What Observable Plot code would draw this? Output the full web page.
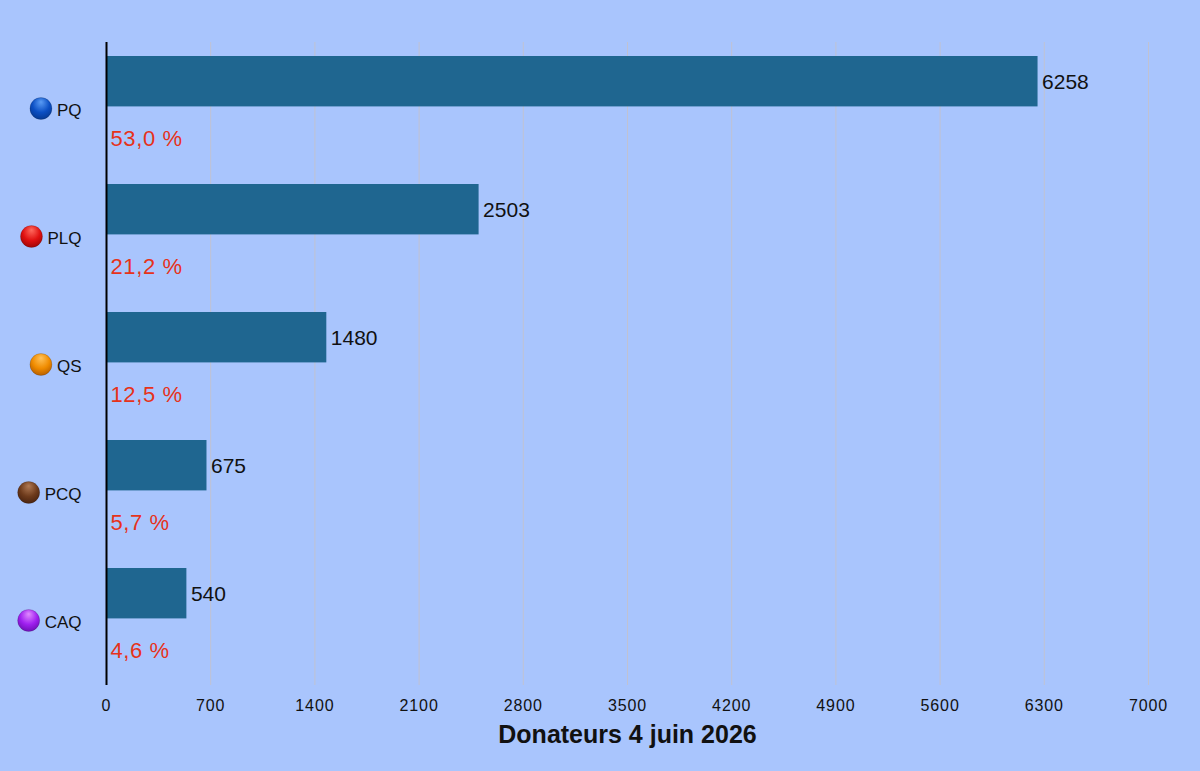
<!DOCTYPE html>
<html><head><meta charset="utf-8">
<script src="https://cdn.jsdelivr.net/npm/d3@7"></script>
<script src="https://cdn.jsdelivr.net/npm/@observablehq/plot@0.6"></script>
<style>
html,body{margin:0;padding:0;background:#a9c5fd;}
#chart{width:1200px;height:771px;}
</style></head>
<body><div id="chart"></div>
<script>
const parties = ["PQ", "PLQ", "QS", "PCQ", "CAQ"];
const donors = [6258, 2503, 1480, 675, 540];
const shares = ["53,0 %", "21,2 %", "12,5 %", "5,7 %", "4,6 %"];
const partyColors = [["#5a9cf5", "#0b4fc4", "#063a94"], ["#ff6a5e", "#e01010", "#a00606"], ["#ffc25a", "#f08c00", "#b86000"], ["#b07a55", "#6e3b1c", "#4a2410"], ["#e08cff", "#a020f0", "#7010b8"]];
const xTicks = [0, 700, 1400, 2100, 2800, 3500, 4200, 4900, 5600, 6300, 7000];
const title = "Donateurs 4 juin 2026";

const data = parties.map((p, i) => ({party: p, donors: donors[i], share: shares[i], idx: i}));

const font = "'Liberation Sans', Arial, Helvetica, sans-serif";
const ctx = document.createElement("canvas").getContext("2d");
ctx.font = `17px ${font}`;
const nameW = p => ctx.measureText(p).width;

const bandH = (685 - 42) / parties.length;

const chart = Plot.plot({
  width: 1200,
  height: 771,
  marginLeft: 106,
  marginRight: 52,
  marginTop: 42,
  marginBottom: 86,
  style: {background: "transparent", fontFamily: font, fontSize: "16px", color: "#111"},
  x: {domain: [0, 7000], ticks: xTicks, label: null},
  y: {domain: parties, padding: 0, label: null, axis: null},
  marks: [
    Plot.gridX(xTicks.slice(1), {stroke: "#c0c2d2", strokeOpacity: 1, strokeWidth: 1}),
    Plot.axisX({ticks: xTicks, tickSize: 0, tickPadding: 14, label: null, tickFormat: d => String(d), ariaLabel: "x-axis"}),
    Plot.barX(data, {x: "donors", y: "party", fill: "#1f6690", insetTop: 12, insetBottom: bandH - 63}),
    Plot.ruleX([0], {stroke: "#000", strokeWidth: 2}),
    Plot.text(data, {x: "donors", y: "party", text: d => String(d.donors), textAnchor: "start", dx: 4, dy: -26, fontSize: 21, fill: "#111"}),
    Plot.text(data, {x: 0, y: "party", text: "share", textAnchor: "start", dx: 4, dy: 30, fontSize: 22, fill: "#e6321a",
      render: (index, scales, values, dims, context, next) => {
        const g = next(index, scales, values, dims, context);
        d3.select(g).style("letter-spacing", "0.6px");
        return g;
      }}),
    Plot.text(data, {frameAnchor: "left", y: "party", text: "party", textAnchor: "end", dx: -25, dy: 2, fontSize: 17, fill: "#111"}),
    Plot.dot(data, {frameAnchor: "left", y: "party", r: 11, fill: d => `url(#grad${d.idx})`, stroke: "rgba(0,0,0,0.25)", strokeWidth: 0.6,
      render: (index, scales, values, dims, context, next) => {
        const g = next(index, scales, values, dims, context);
        d3.select(g).selectAll("circle").each(function(_, j) {
          const i = index[j];
          d3.select(this).attr("cx", dims.marginLeft - 25 - nameW(data[i].party) - 16).attr("fill", `url(#grad${data[i].idx})`);
        });
        return g;
      }}),
    Plot.text([title], {frameAnchor: "bottom", dy: 57, fontSize: 25, fontWeight: "bold", fill: "#111"})
  ]
});

const svg = d3.select(chart);
svg.selectAll('g[aria-label="x-axis tick label"]').style("letter-spacing", "0.9px").attr("font-size", 16);
const defs = svg.insert("defs", ":first-child");
partyColors.forEach((c, i) => {
  const g = defs.append("radialGradient").attr("id", `grad${i}`).attr("cx", "50%").attr("cy", "35%").attr("r", "65%").attr("fx", "50%").attr("fy", "20%");
  g.append("stop").attr("offset", "0%").attr("stop-color", c[0]);
  g.append("stop").attr("offset", "60%").attr("stop-color", c[1]);
  g.append("stop").attr("offset", "100%").attr("stop-color", c[2]);
});
document.getElementById("chart").appendChild(chart);
</script>
</body></html>
